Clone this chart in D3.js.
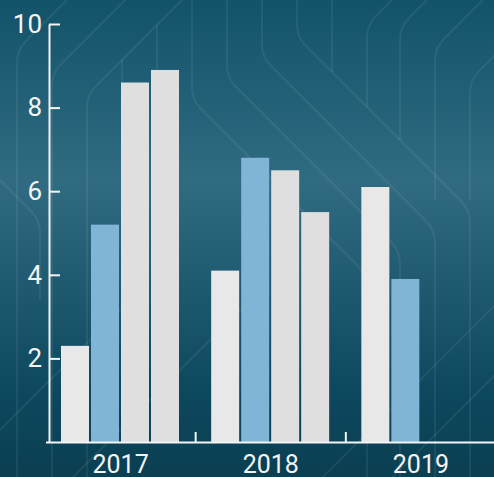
<!DOCTYPE html>
<html>
<head>
<meta charset="utf-8">
<script src="https://cdn.jsdelivr.net/npm/d3@7"></script>
<style>
  body { margin: 0; background: #0d4459; }
  svg { display: block; }
  text { font-family: Roboto, "Liberation Sans", sans-serif; }
</style>
</head>
<body>
<script>
let width = 494
let height = 477

// data
let years = ["2017", "2018", "2019"]
let series = ["a", "b", "c", "d"]
let valuesA = [2.3, 4.1, 6.1]
let valuesB = [5.2, 6.8, 3.9]
let valuesC = [8.6, 6.5, null]
let valuesD = [8.9, 5.5, null]
let yTicks = [2, 4, 6, 8, 10]

let colors = { a: "#e8e8e8", b: "#80b5d5", c: "#dfdfdf", d: "#dfdfdf" }

let rows = years.map((year, i) => ({
    year: year,
    a: valuesA[i], b: valuesB[i], c: valuesC[i], d: valuesD[i]
}))

const svg = d3.select("body").append("svg")
    .attr("width", width)
    .attr("height", height)

// background gradient
const defs = svg.append("defs")
const grad = defs.append("linearGradient")
    .attr("id", "bg")
    .attr("x1", 0).attr("y1", 0).attr("x2", 0).attr("y2", 1)
grad.selectAll("stop")
    .data([[0, "#12536a"], [0.38, "#306b81"], [0.82, "#0d485e"], [1, "#0b3f52"]])
    .join("stop")
    .attr("offset", d => d[0])
    .attr("stop-color", d => d[1])

svg.append("rect")
    .attr("width", width)
    .attr("height", height)
    .attr("fill", "url(#bg)")

// decorative traces
function trace(pts, r) {
    const p = d3.path()
    p.moveTo(pts[0][0], pts[0][1])
    for (let i = 1; i < pts.length - 1; i++) {
        p.arcTo(pts[i][0], pts[i][1], pts[i + 1][0], pts[i + 1][1], r)
    }
    p.lineTo(pts[pts.length - 1][0], pts[pts.length - 1][1])
    return p.toString()
}

let traces = [
    [[192, -5], [192, 100], [367, 275], [367, 490]],
    [[227, -5], [227, 78], [400, 251], [400, 490]],
    [[262, -5], [262, 57], [435, 230], [435, 490]],
    [[297, -5], [297, 37], [470, 210], [470, 490]],
    [[332, -5], [332, 72]],
    [[17, 490], [17, 50], [70, -3]],
    [[52, 490], [52, 73], [128, -3]],
    [[87, 490], [87, 95], [185, -3]],
    [[122, 60], [122, 300]],
    [[157, 25], [157, 260]],
    [[367, 107], [367, 25], [395, -3]],
    [[400, 140], [400, 27], [430, -3]],
    [[435, 200], [435, 48], [486, -3]],
    [[470, 200], [470, 80], [560, -10]],
    [[0, 180], [40, 220], [40, 300]],
    [[260, 290], [60, 490]],
    [[130, 300], [-10, 440]],
    [[500, 300], [310, 490]],
    [[500, 370], [390, 480]]
]

svg.append("g")
    .attr("fill", "none")
    .attr("stroke", "rgba(255,255,255,0.065)")
    .attr("stroke-width", 2)
    .selectAll("path")
    .data(traces)
    .join("path")
    .attr("d", d => trace(d, 30))

// scales
let x0 = d3.scaleBand()
    .domain(years)
    .range([45.5, 496])

let x1 = d3.scaleBand()
    .domain(series)
    .range([14.5, 134.5])
    .paddingInner(2 / 30)
    .paddingOuter(1 / 30)

let y = d3.scaleLinear()
    .domain([0, 10])
    .range([442, 24])

// bars
svg.append("g")
    .selectAll("g")
    .data(rows)
    .join("g")
    .attr("transform", d => `translate(${x0(d.year)},0)`)
    .selectAll("rect")
    .data(d => series.filter(k => d[k] != null).map(k => ({ key: k, value: d[k] })))
    .join("rect")
    .attr("x", d => x1(d.key))
    .attr("y", d => y(d.value))
    .attr("width", x1.bandwidth())
    .attr("height", d => y(0) - y(d.value))
    .attr("fill", d => colors[d.key])

// axes
const gy = svg.append("g")
    .attr("transform", "translate(49,0)")
    .call(d3.axisLeft(y).tickValues(yTicks).tickSizeInner(-11).tickSizeOuter(0).tickPadding(7))
gy.selectAll("path, line").attr("stroke", "#f4f4f4").attr("stroke-width", 2)
gy.selectAll("text").attr("fill", "#f4f4f4").style("font-size", "26px")

const gx = svg.append("g")
    .attr("transform", "translate(0,442)")
    .call(d3.axisBottom(x0).tickSize(0).tickPadding(13))
gx.select(".domain").attr("stroke", "#f4f4f4").attr("stroke-width", 2)
gx.selectAll("text").attr("fill", "#f4f4f4").style("font-size", "25px")

// group separators
gx.selectAll(".sep")
    .data(years.slice(1))
    .join("line")
    .attr("class", "sep")
    .attr("x1", d => x0(d))
    .attr("x2", d => x0(d))
    .attr("y1", 0)
    .attr("y2", -10)
    .attr("stroke", "#f4f4f4")
    .attr("stroke-width", 2)
</script>
</body>
</html>
